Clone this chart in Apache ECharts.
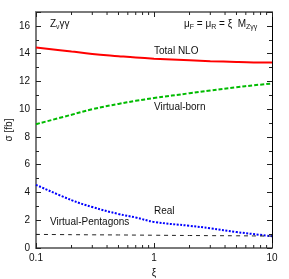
<!DOCTYPE html>
<html>
<head>
<meta charset="utf-8">
<script src="https://cdn.jsdelivr.net/npm/echarts@6/dist/echarts.min.js"></script>
<style>
html,body{margin:0;padding:0;background:#fff;}
#c{width:289px;height:279px;}
</style>
</head>
<body>
<div id="c"></div>
<script>
// scale factor xi
var xi = [0.1, 0.2, 0.3, 0.5, 0.7, 1, 2, 3, 5, 7, 10];
var totalNLO = [14.45, 14.15, 13.98, 13.82, 13.72, 13.64, 13.52, 13.46, 13.40, 13.37, 13.36];
var virtualBorn = [8.92, 9.6, 10.0, 10.38, 10.6, 10.8, 11.15, 11.35, 11.58, 11.72, 11.85];
var real = [4.55, 3.45, 2.95, 2.45, 2.2, 1.88, 1.6, 1.42, 1.15, 1.0, 0.85];
var pentagons = [0.98, 0.96, 0.95, 0.94, 0.93, 0.92, 0.9, 0.89, 0.88, 0.87, 0.86];
var xMajorTicks = [0.1, 1, 10];
var xMinorTicks = [0.2,0.3,0.4,0.5,0.6,0.7,0.8,0.9,2,3,4,5,6,7,8,9];
var yTickLabels = [0, 2, 4, 6, 8, 10, 12, 14, 16];
var yMin = 0, yMax = 17, yInterval = 2;

function pairs(v){ return xi.map(function(x,i){return [x, v[i]];}); }

var FONT = '"Liberation Sans", Arial, Helvetica, sans-serif';
var chart = echarts.init(document.getElementById('c'), null, {renderer:'canvas'});

var axisCommonY = {
  type:'value', min:yMin, max:yMax, interval:yInterval,
  splitLine:{show:false},
  axisTick:{show:true, inside:true, length:5, lineStyle:{color:'#222', width:1}},
  minorTick:{show:true, splitNumber:2, length:3, lineStyle:{color:'#222', width:1}},
  minorSplitLine:{show:false}
};
var axisCommonX = {
  type:'log', logBase:10, min:0.1, max:10,
  splitLine:{show:false},
  axisTick:{show:true, inside:true, length:5, lineStyle:{color:'#222', width:1}}
};

var option = {
  animation:false,
  grid:{left:36, right:17, top:12, bottom:31, containLabel:false},
  xAxis:[
    Object.assign({}, axisCommonX, {
      position:'bottom',
      axisLine:{show:true, onZero:false, lineStyle:{color:'#7a7a7a', width:2}},
      axisLabel:{show:true, margin:5, color:'#111', fontSize:10, fontFamily:FONT,
        formatter:function(v){ var r = +(+v).toPrecision(3); return xMajorTicks.indexOf(r)>=0 ? String(r) : ''; }}
    }),
    Object.assign({}, axisCommonX, {
      position:'top',
      axisLine:{show:true, onZero:false, lineStyle:{color:'#7a7a7a', width:2}},
      axisLabel:{show:false}
    })
  ],
  yAxis:[
    Object.assign({}, axisCommonY, {
      position:'left',
      axisLine:{show:true, onZero:false, lineStyle:{color:'#7a7a7a', width:2}},
      axisLabel:{show:true, margin:6, color:'#111', fontSize:10, fontFamily:FONT, showMaxLabel:false,
        formatter:function(v){ return yTickLabels.indexOf(+v)>=0 ? String(v) : ''; }}
    }),
    Object.assign({}, axisCommonY, {
      position:'right',
      axisLine:{show:true, onZero:false, lineStyle:{color:'#000', width:1}},
      axisLabel:{show:false}
    })
  ],
  series:[
    {type:'line', name:'Total NLO', data:pairs(totalNLO), smooth:0.4, symbol:'none',
      lineStyle:{color:'#ff0000', width:2}, z:5},
    {type:'line', name:'Virtual-born', data:pairs(virtualBorn), smooth:0.4, symbol:'none',
      lineStyle:{color:'#00bb00', width:2, type:[4,2]}, z:5},
    {type:'line', name:'Real', data:pairs(real), smooth:0.4, symbol:'none',
      lineStyle:{color:'#0000ff', width:2, type:[2,1.5]}, z:5},
    {type:'line', name:'Virtual-Pentagons', data:pairs(pentagons), smooth:0.4, symbol:'none',
      lineStyle:{color:'#222', width:1, type:[4,4]}, z:5},
    {type:'custom', name:'xminor', data:xMinorTicks.map(function(x){return [x];}),
      xAxisIndex:0, yAxisIndex:0, silent:true, z:6,
      encode:{x:0},
      renderItem:function(params, api){
        var x = api.value(0);
        var b = api.coord([x, yMin]);
        var t = api.coord([x, yMax]);
        return {type:'group', children:[
          {type:'line', shape:{x1:b[0], y1:b[1], x2:b[0], y2:b[1]-3}, style:{stroke:'#222', lineWidth:1}},
          {type:'line', shape:{x1:t[0], y1:t[1], x2:t[0], y2:t[1]+3}, style:{stroke:'#222', lineWidth:1}}
        ]};
      }
    }
  ],
  graphic:[
    {type:'text', x:154, y:51, style:{text:'Total NLO', fontSize:10, fontFamily:FONT, fill:'#111', textVerticalAlign:'middle'}},
    {type:'text', x:154, y:107, style:{text:'Virtual-born', fontSize:10, fontFamily:FONT, fill:'#111', textVerticalAlign:'middle'}},
    {type:'text', x:154, y:211, style:{text:'Real', fontSize:10, fontFamily:FONT, fill:'#111', textVerticalAlign:'middle'}},
    {type:'text', x:50, y:222.5, style:{text:'Virtual-Pentagons', fontSize:10, fontFamily:FONT, fill:'#111', textVerticalAlign:'middle'}},
    {type:'text', x:154, y:273, style:{text:'ξ', fontSize:10, fontFamily:FONT, fill:'#111', textAlign:'center', textVerticalAlign:'middle'}},
    {type:'text', x:9, y:130, rotation:Math.PI/2, style:{text:'σ [fb]', fontSize:10, fontFamily:FONT, fill:'#111', textAlign:'center', textVerticalAlign:'middle'}},
    {type:'text', x:50, y:24, style:{
      text:'{n|Z}{s|ν}{n|γγ}', fontFamily:FONT, fill:'#111', textVerticalAlign:'middle',
      rich:{n:{fontSize:10, lineHeight:14, verticalAlign:'middle', fontFamily:FONT, color:'#111'},
            s:{fontSize:7, lineHeight:14, verticalAlign:'bottom', fontFamily:FONT, color:'#111'}}}},
    {type:'text', x:184, y:24, style:{
      text:'{n|μ}{s|F}{n| = μ}{s|R}{n| = ξ  M}{s|Zγγ}', fontFamily:FONT, fill:'#111', textVerticalAlign:'middle',
      rich:{n:{fontSize:10, lineHeight:14, verticalAlign:'middle', fontFamily:FONT, color:'#111'},
            s:{fontSize:7, lineHeight:14, verticalAlign:'bottom', fontFamily:FONT, color:'#111'}}}}
  ]
};
chart.setOption(option);
</script>
</body>
</html>
